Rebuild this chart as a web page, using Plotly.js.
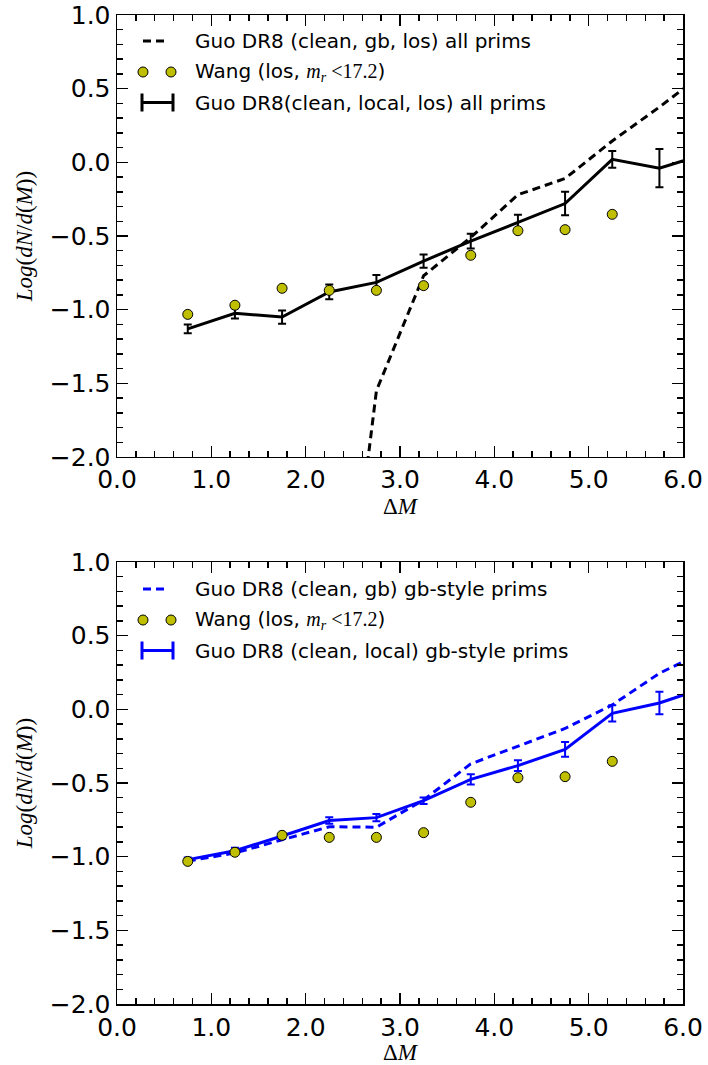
<!DOCTYPE html>
<html>
<head>
<meta charset="utf-8">
<script src="https://cdn.plot.ly/plotly-3.0.1.min.js"></script>
<style>
  html, body { margin: 0; padding: 0; background: #fff; }
  #chart { width: 708px; height: 1065px; }
</style>
</head>
<body>
<div id="chart"></div>
<script>
// Luminosity-gap bins (ΔM) shared by all samples
const deltaM = [0.75, 1.25, 1.75, 2.25, 2.75, 3.25, 3.75, 4.25, 4.75, 5.25, 5.75, 6.25];

// Wang et al. line-of-sight sample, m_r < 17.2
const wangX = [0.75, 1.25, 1.75, 2.25, 2.75, 3.25, 3.75, 4.25, 4.75, 5.25];
const wangY = [-1.032, -0.970, -0.855, -0.869, -0.869, -0.837, -0.631, -0.464, -0.457, -0.353];

// Upper panel: all primaries
const gbLosX = [2.25, 2.75, 3.25, 3.75, 4.25, 4.75, 5.25, 5.75, 6.25];
const gbLosY = [-4.15, -1.55, -0.77, -0.51, -0.22, -0.11, 0.145, 0.375, 0.62];
const localLosY   = [-1.13, -1.025, -1.05, -0.88, -0.815, -0.67, -0.535, -0.41, -0.28, 0.02, -0.04, 0.06];
const localLosErr = [0.03, 0.035, 0.045, 0.05, 0.05, 0.045, 0.05, 0.055, 0.08, 0.057, 0.13, 0.10];

// Lower panel: gb-style primaries
const gbStyleY = [-1.03, -0.975, -0.885, -0.797, -0.80, -0.615, -0.37, -0.25, -0.13, 0.03, 0.245, 0.40];
const localStyleY   = [-1.02, -0.96, -0.86, -0.755, -0.735, -0.62, -0.475, -0.382, -0.272, -0.027, 0.043, 0.15];
const localStyleErr = [0.015, 0.02, 0.02, 0.022, 0.025, 0.022, 0.035, 0.036, 0.05, 0.055, 0.076, 0.06];

// Legend labels
const topLabels = [
  'Guo DR8 (clean, gb, los) all prims',
  'Wang (los, <span style="font-family:\'Liberation Serif\'"><i>m</i><sub><i>r</i></sub> &lt;17.2</span>)',
  'Guo DR8(clean, local, los) all prims'
];
const bottomLabels = [
  'Guo DR8 (clean, gb) gb-style prims',
  'Wang (los, <span style="font-family:\'Liberation Serif\'"><i>m</i><sub><i>r</i></sub> &lt;17.2</span>)',
  'Guo DR8 (clean, local) gb-style prims'
];

const WANG_COLOR = '#bfbf00';
const DASH = '8px,5px';

function wangTrace(xa, ya) {
  return {
    x: wangX, y: wangY, xaxis: xa, yaxis: ya, type: 'scatter', mode: 'markers',
    marker: { size: 10, color: WANG_COLOR, line: { color: 'black', width: 1 } },
    showlegend: false, hoverinfo: 'skip'
  };
}

const traces = [
  { x: gbLosX, y: gbLosY, xaxis: 'x', yaxis: 'y', type: 'scatter', mode: 'lines',
    line: { color: 'black', width: 3, dash: DASH }, showlegend: false },
  { x: deltaM, y: localLosY, xaxis: 'x', yaxis: 'y', type: 'scatter', mode: 'lines',
    line: { color: 'black', width: 3 },
    error_y: { type: 'data', array: localLosErr, color: 'black', thickness: 2, width: 4 },
    showlegend: false },
  wangTrace('x', 'y'),
  { x: deltaM, y: gbStyleY, xaxis: 'x2', yaxis: 'y2', type: 'scatter', mode: 'lines',
    line: { color: 'blue', width: 3, dash: DASH }, showlegend: false },
  { x: deltaM, y: localStyleY, xaxis: 'x2', yaxis: 'y2', type: 'scatter', mode: 'lines',
    line: { color: 'blue', width: 3 },
    error_y: { type: 'data', array: localStyleErr, color: 'blue', thickness: 2, width: 4 },
    showlegend: false },
  wangTrace('x2', 'y2')
];

const tickFont = { family: 'DejaVu Sans', size: 25, color: 'black' };

function xAxis(anchor) {
  return {
    anchor: anchor, domain: [0, 1], range: [0, 6], tick0: 0, dtick: 1, tickformat: '.1f',
    ticks: 'inside', ticklen: 11, tickwidth: 1.5, tickcolor: 'black',
    minor: { dtick: 0.2, ticks: 'inside', ticklen: 6, tickwidth: 1.5, tickcolor: 'black', showgrid: false },
    showline: true, linewidth: 1.5, linecolor: 'black', mirror: 'ticks',
    showgrid: false, zeroline: false, tickfont: tickFont,
    title: { text: 'Δ<i>M</i>', font: { family: 'Liberation Serif', size: 23, color: 'black' }, standoff: 4 }
  };
}
function yAxis(anchor, domain) {
  return {
    anchor: anchor, domain: domain, range: [-2, 1], tick0: 0, dtick: 0.5, tickformat: '.1f',
    ticks: 'inside', ticklen: 11, tickwidth: 1.5, tickcolor: 'black',
    minor: { dtick: 0.1, ticks: 'inside', ticklen: 6, tickwidth: 1.5, tickcolor: 'black', showgrid: false },
    showline: true, linewidth: 1.5, linecolor: 'black', mirror: 'ticks',
    showgrid: false, zeroline: false, tickfont: tickFont,
    title: { text: '<i>Log</i>(<i>dN</i>/<i>d</i>(<i>M</i>))',
             font: { family: 'Liberation Serif', size: 23, color: 'black' }, standoff: 10 }
  };
}

// Hand-drawn legend: samples are placed in pixels from the top-left corner of each panel
function legend(xa, ya, labels, color, rows) {
  const xr = xa + ' domain', yr = ya + ' domain';
  const base = { xref: xr, yref: yr, xsizemode: 'pixel', ysizemode: 'pixel', xanchor: 0, yanchor: 1 };
  const shapes = [
    Object.assign({}, base, { type: 'line', x0: 26, x1: 48, y0: -rows[0], y1: -rows[0],
      line: { color: color, width: 3, dash: DASH } }),
    Object.assign({}, base, { type: 'circle', x0: 21, x1: 31, y0: -rows[1] - 5, y1: -rows[1] + 5,
      fillcolor: WANG_COLOR, line: { color: 'black', width: 1 } }),
    Object.assign({}, base, { type: 'circle', x0: 49, x1: 59, y0: -rows[1] - 5, y1: -rows[1] + 5,
      fillcolor: WANG_COLOR, line: { color: 'black', width: 1 } }),
    Object.assign({}, base, { type: 'line', x0: 25, x1: 56, y0: -rows[2], y1: -rows[2],
      line: { color: color, width: 3 } }),
    Object.assign({}, base, { type: 'line', x0: 25, x1: 25, y0: -rows[2] - 9, y1: -rows[2] + 9,
      line: { color: color, width: 3 } }),
    Object.assign({}, base, { type: 'line', x0: 56, x1: 56, y0: -rows[2] - 9, y1: -rows[2] + 9,
      line: { color: color, width: 3 } })
  ];
  const annotations = labels.map((t, i) => ({
    xref: xr, yref: yr, x: 0, y: 1, xshift: 76, yshift: -rows[i],
    xanchor: 'left', yanchor: 'middle', showarrow: false, text: t,
    font: { family: 'DejaVu Sans', size: 20, color: 'black' }
  }));
  return { shapes, annotations };
}

const legTop = legend('x', 'y', topLabels, 'black', [26, 57, 87.5]);
const legBot = legend('x2', 'y2', bottomLabels, 'blue', [27, 58, 88.5]);

const layout = {
  width: 708, height: 1065,
  margin: { l: 117, r: 25, t: 15, b: 61 },
  paper_bgcolor: 'white', plot_bgcolor: 'white',
  showlegend: false,
  xaxis: xAxis('y'),
  yaxis: yAxis('x', [0.5531, 1]),
  xaxis2: xAxis('y2'),
  yaxis2: yAxis('x2', [0, 0.4469]),
  shapes: legTop.shapes.concat(legBot.shapes),
  annotations: legTop.annotations.concat(legBot.annotations)
};

Plotly.newPlot('chart', traces, layout, { staticPlot: true, displayModeBar: false });
</script>
</body>
</html>
